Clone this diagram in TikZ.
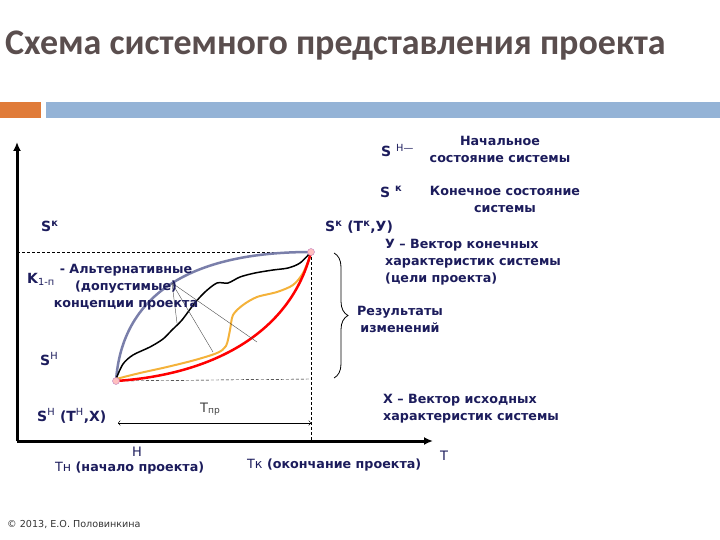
\documentclass[tikz,border=0pt]{standalone}
\usepackage{fontspec}
\setmainfont{DejaVu Sans}
\newfontfamily\titlefont{Carlito}
\usetikzlibrary{arrows.meta,decorations.pathreplacing}
\definecolor{navy}{HTML}{1C1C5C}
\definecolor{titlegray}{HTML}{5A4E4E}
\definecolor{barorange}{HTML}{E07B39}
\definecolor{barblue}{HTML}{94B3D6}
\definecolor{slate}{HTML}{7A7FAA}
\definecolor{gold}{HTML}{F4B23A}
\tikzset{
  lbl/.style={font=\bfseries\fontsize{12.7}{17}\selectfont, text=navy, inner sep=0},
  slbl/.style={font=\bfseries\fontsize{14}{17}\selectfont, text=navy, inner sep=0, anchor=base west},
  plain/.style={font=\fontsize{13}{15}\selectfont, text=navy, inner sep=0},
  guide/.style={densely dashed, thin},
  dot/.style={draw=violet!50, fill=pink, circle, inner sep=0, minimum size=7pt}
}
\begin{document}
\begin{tikzpicture}[x=1pt,y=-1pt]
\useasboundingbox (0,0) rectangle (720,540);
\node[anchor=base west, font=\titlefont\bfseries\fontsize{36}{36}\selectfont, text=titlegray, inner sep=0] (title) at (5,55) {Схема системного представления проекта};
\fill[barorange] (0,102) rectangle (41,118);
\fill[barblue] (46,102) rectangle (720,118);

\coordinate (O) at (17,441);
\coordinate (ytop) at (17,142);
\coordinate (xend) at (433,441);
\coordinate (s) at (116,381);
\coordinate (f) at (311,252);
\coordinate (yk) at (17,252);
\coordinate (xk) at (311,441);
\coordinate (hk) at (311,379);
\coordinate (tl) at (118,423);
\coordinate (tr) at (311,423);
\coordinate (bt) at (334,253);
\coordinate (bb) at (334,378);
\coordinate (lead) at (172,283);
\coordinate (l1) at (177,323);
\coordinate (l2) at (213,352);
\coordinate (l3) at (257,342);

\path[draw,line width=3pt,-{Latex[length=9pt,width=8pt]}] (O) -- (ytop);
\path[draw,line width=3pt,-{Latex[length=9pt,width=8pt]}] (O) -- (xend);
\path[draw,guide] (yk) -- (f);
\path[draw,guide] (f) -- (xk);
\path[draw,guide] (s) -- (hk);
\path[draw,thin,<->] (tl) -- (tr);

\path[draw,slate,line width=2.5pt] (s) .. controls (122,295) and (190,252) .. (f);
\path[draw,line width=1.5pt] plot[smooth] coordinates {(116,379) (123,364) (133,355) (150,347) (163,339) (172,330) (182,320) (194,304) (205,292) (217,283) (228,283) (240,277) (255,273) (273,270) (288,268) (300,263) (311,252)};
\path[draw,gold,line width=2pt] plot[smooth] coordinates {(116,379) (140,373) (167,367) (195,360) (217,353) (226,346) (230,330) (233,315) (243,305) (257,297) (277,292) (293,285) (303,273) (311,254)};
\path[draw,red,line width=2.5pt] (s) .. controls (220,374) and (292,328) .. (f);
\path[draw,thin,gray!60!black] (lead) -- (l1);
\path[draw,thin,gray!60!black] (lead) -- (l2);
\path[draw,thin,gray!60!black] (lead) -- (l3);
\node[dot] (sdot) at (s) {};
\node[dot] (fdot) at (f) {};
\path[draw,thick,decorate,decoration={brace,amplitude=14pt}] (bt) -- (bb);

\node[slbl] (shn) at (381,157) {S \textsuperscript{\mdseries Н—}};
\node[lbl,align=center] (nach) at (500,149) {Начальное\\состояние системы};
\node[slbl] (sk) at (380,197) {S \textsuperscript{к}};
\node[lbl,align=center] (kon) at (505,199) {Конечное состояние\\системы};
\node[slbl] (skty) at (325,232) {S\textsuperscript{к} (Т\textsuperscript{к},У)};
\node[lbl,align=left,anchor=north west] (yvec) at (385,239) {У – Вектор конечных\\характеристик системы\\(цели проекта)};
\node[lbl,align=center] (rez) at (400,319) {Результаты\\изменений};
\node[lbl,align=left,anchor=north west] (xvec) at (383,394) {Х – Вектор исходных\\характеристик системы};
\node[plain] (T) at (444,456) {Т};
\node[lbl,anchor=base west] (tk) at (247,468) {{\mdseries Тк} (окончание проекта)};
\node[lbl,anchor=base west] (tn) at (55,471) {{\mdseries Тн} (начало проекта)};
\node[plain] (hn) at (137,452) {Н};
\node[slbl] (sk2) at (41,232) {S\textsuperscript{к}};
\node[slbl] (kk) at (27,283) {K\textsubscript{\mdseries 1-п}};
\node[lbl,align=center,anchor=north] (alt) at (126,264) {- Альтернативные\\(допустимые)\\концепции проекта};
\node[slbl] (sh2) at (40,365) {S\textsuperscript{\mdseries Н}};
\node[slbl] (shtx) at (37,421) {S\textsuperscript{\mdseries Н} (Т\textsuperscript{\mdseries Н},Х)};
\node[plain,anchor=base west,text=black!75] (tpr) at (200,412) {Т\textsubscript{пр}};
\node[anchor=base west, inner sep=0, font=\fontsize{9.6}{10}\selectfont, text=black!80] (copy) at (7,527) {© 2013, Е.О. Половинкина};
\end{tikzpicture}
\end{document}
